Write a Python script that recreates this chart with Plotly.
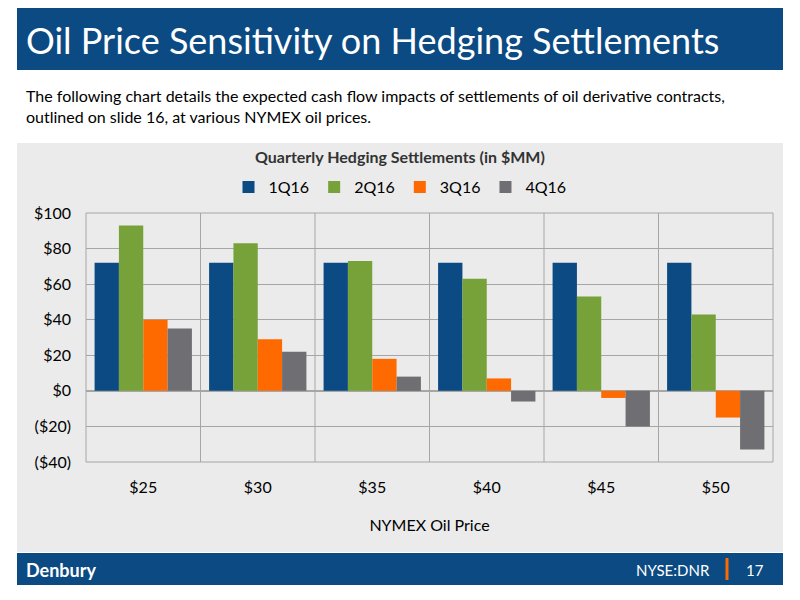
import plotly.graph_objects as go

categories = ["$25", "$30", "$35", "$40", "$45", "$50"]
q1 = [72, 72, 72, 72, 72, 72]
q2 = [93, 83, 73, 63, 53, 43]
q3 = [40, 29, 18, 7, -4, -15]
q4 = [35, 22, 8, -6, -20, -33]
series = [("1Q16", q1, "#0B4A82"), ("2Q16", q2, "#77A23A"),
          ("3Q16", q3, "#FF6A00"), ("4Q16", q4, "#6E6E73")]
tickvals = [-40, -20, 0, 20, 40, 60, 80, 100]
ticktext = ["($40)", "($20)", "$0", "$20", "$40", "$60", "$80", "$100"]

W, H = 800, 600
OFF = 8  # page body margin
def px(x): return (x - OFF) / W
def py(y): return 1 - (y - OFF) / H

fig = go.Figure()
for name, vals, col in series:
    fig.add_trace(go.Bar(name=name, x=categories, y=vals, marker_color=col, marker_line_width=0))

F = "Lato, Open Sans, sans-serif"
fig.update_layout(
    width=W, height=H, margin=dict(l=0, r=0, t=0, b=0, pad=0, autoexpand=False),
    paper_bgcolor="white", plot_bgcolor="#EBEBEB",
    barmode="group", bargap=0.15, bargroupgap=0,
    font=dict(family=F, size=16, color="black"),
    showlegend=True,
    legend=dict(orientation="h", x=px(400), xanchor="center", y=py(187), yanchor="middle",
                font=dict(size=16), bgcolor="rgba(0,0,0,0)", traceorder="normal"),
    xaxis=dict(domain=[px(86), px(773)], showgrid=False, ticks="", tickfont=dict(size=16),
               showline=False, zeroline=False, automargin=False, ticklabelstandoff=14,
               title=dict(text="NYMEX Oil Price", font=dict(size=16), standoff=24)),
    yaxis=dict(domain=[py(462), py(213)], range=[-40, 100], tickvals=tickvals, ticktext=ticktext,
               showgrid=True, gridcolor="#A6A6A6", gridwidth=1, zeroline=True, zerolinecolor="#A6A6A6",
               tickfont=dict(size=16), ticks="", showline=False, automargin=False, ticklabelstandoff=14),
    shapes=[
        dict(type="rect", xref="paper", yref="paper", x0=px(17), x1=px(783), y0=py(70), y1=py(2),
             fillcolor="#0B4A82", line_width=0, layer="below"),
        dict(type="rect", xref="paper", yref="paper", x0=px(17), x1=px(783), y0=py(552), y1=py(143),
             fillcolor="#EBEBEB", line_width=0, layer="below"),
        dict(type="rect", xref="paper", yref="paper", x0=px(17), x1=px(783), y0=py(585), y1=py(553),
             fillcolor="#0B4A82", line_width=0, layer="below"),
        dict(type="rect", xref="paper", yref="paper", x0=px(86), x1=px(773), y0=py(462), y1=py(213),
             line=dict(color="#A6A6A6", width=1), layer="above"),
        dict(type="line", xref="paper", yref="paper", x0=px(727), x1=px(727), y0=py(580), y1=py(558),
             line=dict(color="#FF6A00", width=3)),
    ] + [dict(type="line", xref="x", yref="paper", x0=i + 0.5, x1=i + 0.5, y0=py(462), y1=py(213),
              line=dict(color="#A6A6A6", width=1)) for i in range(5)],
    annotations=[
        dict(text="Oil Price Sensitivity on Hedging Settlements", xref="paper", yref="paper",
             x=px(24), y=py(40), xanchor="left", yanchor="middle", showarrow=False,
             font=dict(size=36, color="white", family=F)),
        dict(text="The following chart details the expected cash flow impacts of settlements of oil derivative contracts,<br>outlined on slide 16, at various NYMEX oil prices.",
             xref="paper", yref="paper", x=px(24), y=py(106), xanchor="left", yanchor="middle",
             align="left", showarrow=False, font=dict(size=16, color="black", family=F)),
        dict(text="<b>Quarterly Hedging Settlements (in $MM)</b>", xref="paper", yref="paper",
             x=px(400), y=py(157), xanchor="center", yanchor="middle", showarrow=False,
             font=dict(size=16, color="#333333", family=F)),
        dict(text="<b>Denbury</b>", xref="paper", yref="paper", x=px(24), y=py(570), xanchor="left",
             yanchor="middle", showarrow=False, font=dict(size=18, color="white", family=F)),
        dict(text="NYSE:DNR", xref="paper", yref="paper", x=px(712), y=py(570), xanchor="right",
             yanchor="middle", showarrow=False, font=dict(size=15, color="white", family=F)),
        dict(text="17", xref="paper", yref="paper", x=px(755), y=py(570), xanchor="center",
             yanchor="middle", showarrow=False, font=dict(size=15, color="white", family=F)),
    ],
)
fig.write_html("out.html")
